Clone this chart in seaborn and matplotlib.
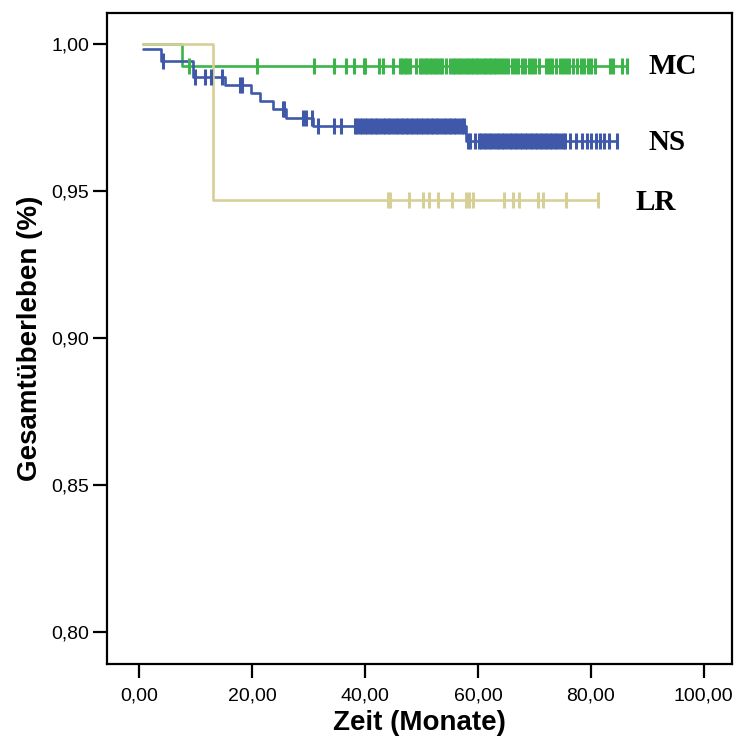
import numpy as np
import pandas as pd
import matplotlib
matplotlib.use("Agg")
import matplotlib.pyplot as plt
import seaborn as sns

# Kaplan-Meier steps (time in months, survival after step)
mc_times = [0.7, 7.5, 86.4]
mc_surv = [1.0, 0.9927, 0.9927]
mc_censor = [8.8, 20.9, 30.9, 34.4, 36.7, 38.0, 39.8, 40.0, 42.5, 43.2, 44.9, 46.1,
             46.5, 47.1, 47.5, 48.0, 49.0, 49.7, 50.1, 50.6, 51.0, 51.5, 51.9, 52.4,
             52.8, 53.3, 53.6, 54.3, 55.1, 55.5, 56.0, 56.4, 56.9, 57.3, 57.8, 58.2,
             58.7, 59.1, 59.6, 60.0, 60.5, 61.0, 61.4, 61.9, 62.3, 62.8, 63.2, 63.7,
             64.3, 64.8, 65.4, 66.0, 66.5, 67.1, 67.8, 68.4, 69.0, 69.6, 70.2, 70.8,
             72.0, 72.6, 73.2, 73.9, 74.5, 75.1, 75.7, 76.2, 76.8, 77.5, 78.2, 78.8,
             79.5, 80.1, 80.8, 83.4, 84.0, 85.5, 86.4]

ns_times = [0.7, 3.9, 9.4, 15.2, 19.8, 21.4, 23.7, 26.0, 30.7, 57.8, 84.6]
ns_surv = [0.9983, 0.9943, 0.9888, 0.9862, 0.9833, 0.9805, 0.9779, 0.9750,
           0.9722, 0.9671, 0.9671]
ns_censor = [4.2, 9.8, 11.6, 12.7, 14.7, 17.8, 18.2, 25.4, 25.7, 28.9, 29.6, 30.5,
             31.6, 34.5, 35.7, 38.2, 38.6, 39.1, 39.5, 40.0, 40.4, 40.9, 41.3, 41.8,
             42.1, 42.7, 43.1, 43.6, 44.0, 44.5, 44.9, 45.4, 45.8, 46.3, 46.7, 47.2,
             47.6, 48.1, 48.5, 49.0, 49.4, 49.9, 50.3, 50.8, 51.2, 51.7, 52.1, 52.6,
             53.0, 53.5, 53.9, 54.4, 54.8, 55.3, 55.7, 56.2, 56.6, 57.1, 57.5,
             58.2, 58.6, 59.4, 60.2, 60.6, 61.1, 61.5, 62.0, 62.4, 62.9, 63.3, 63.8,
             64.2, 64.7, 65.1, 65.6, 66.0, 66.5, 66.9, 67.4, 67.8, 68.3, 68.7, 69.2,
             69.6, 70.1, 70.5, 71.0, 71.4, 71.9, 72.3, 72.8, 73.2, 73.7, 74.1, 74.6,
             75.0, 75.5, 76.3, 77.4, 78.5, 79.3, 80.1, 80.9, 81.6, 82.4, 83.2, 84.6]

lr_times = [0.7, 13.0, 81.3]
lr_surv = [1.0, 0.947, 0.947]
lr_censor = [44.1, 44.5, 47.8, 50.2, 51.4, 53.0, 55.4, 57.8, 58.5, 59.2, 64.6,
             66.3, 67.2, 70.7, 71.5, 75.6, 81.3]

groups = ["MC", "NS", "LR"]
colors = {"MC": "#3BB54A", "NS": "#3F58AA", "LR": "#D6CF98"}
label_pos = {"MC": (90.2, 0.9925), "NS": (90.2, 0.9665), "LR": (87.9, 0.9460)}

curves = {"MC": (mc_times, mc_surv, mc_censor),
          "NS": (ns_times, ns_surv, ns_censor),
          "LR": (lr_times, lr_surv, lr_censor)}

sns.set_style("white")
plt.rcParams["font.family"] = ["Liberation Sans", "DejaVu Sans"]
plt.rcParams["text.color"] = "black"
plt.rcParams["axes.labelcolor"] = "black"

fig = plt.figure(figsize=(7.38, 7.40), dpi=100)
ax = fig.add_axes([0.145, 0.1027, 0.8465, 0.8797])

for g in groups:
    t, s, c = curves[g]
    steps = pd.DataFrame({"t": t, "s": s})
    sns.lineplot(data=steps, x="t", y="s", ax=ax, color=colors[g], lw=1.9,
                 drawstyle="steps-post", estimator=None, sort=False)
    idx = np.searchsorted(t, c, side="right") - 1
    cens = pd.DataFrame({"t": c, "s": np.array(s)[idx]})
    sns.scatterplot(data=cens, x="t", y="s", ax=ax, marker="|", s=120,
                    color=colors[g], linewidths=2.2, zorder=3)
    ax.text(label_pos[g][0], label_pos[g][1], g, fontsize=21, fontweight="bold",
            family="Liberation Serif", va="center", ha="left", color="black")

ax.set_xlim(-5.76, 105.0)
ax.set_ylim(0.789, 1.0106)
ax.set_xticks([0, 20, 40, 60, 80, 100])
ax.set_xticklabels(["0,00", "20,00", "40,00", "60,00", "80,00", "100,00"])
ax.set_yticks([0.80, 0.85, 0.90, 0.95, 1.00])
ax.set_yticklabels(["0,80", "0,85", "0,90", "0,95", "1,00"])
ax.tick_params(axis="both", which="major", direction="out", length=10, width=1.6,
               labelsize=14, colors="black", bottom=True, left=True)
ax.tick_params(axis="x", pad=7)
ax.tick_params(axis="y", pad=3)
for sp in ax.spines.values():
    sp.set_color("black")
    sp.set_linewidth(1.6)

ax.set_xlabel("Zeit (Monate)", fontsize=20, fontweight="bold", labelpad=4)
ax.set_ylabel("Gesamtüberleben (%)", fontsize=20, fontweight="bold", labelpad=6)

fig.savefig("out.png", dpi=100, facecolor="white")
